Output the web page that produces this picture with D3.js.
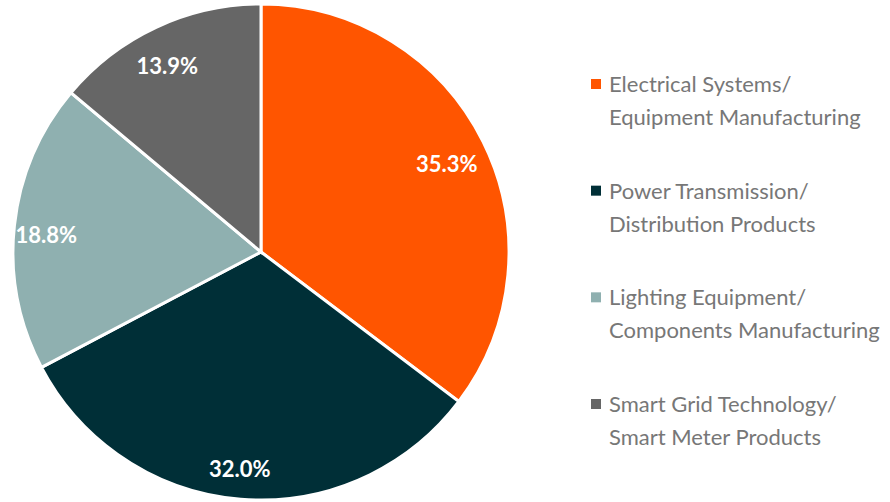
<!DOCTYPE html>
<html>
<head>
<meta charset="utf-8">
<script src="https://cdn.jsdelivr.net/npm/d3@7"></script>
<style>
  body { margin: 0; background: #fff; }
  svg { display: block; }
  .label { fill: #fff; font-family: Lato, sans-serif; font-weight: bold; font-size: 22px; }
  .legend text { fill: #777; font-family: Lato, sans-serif; font-size: 22px; }
</style>
</head>
<body>
<script>
  var width = 890;
  var height = 502;
  var cx = 261, cy = 252, radius = 248;

  var categories = [
    ['Electrical Systems/', 'Equipment Manufacturing'],
    ['Power Transmission/', 'Distribution Products'],
    ['Lighting Equipment/', 'Components Manufacturing'],
    ['Smart Grid Technology/', 'Smart Meter Products']
  ];
  var shares = [35.3, 32.0, 18.8, 13.9];
  var colors = ['#ff5500', '#002f37', '#8fb0b0', '#666666'];

  var dataset = shares.map((v, i) => ({ value: v, lines: categories[i], color: colors[i] }));

  var svg = d3.select('body')
    .append('svg')
    .attr('width', width)
    .attr('height', height);

  var pie = d3.pie().sort(null).value(d => d.value);
  var arc = d3.arc().innerRadius(0).outerRadius(radius);
  var labelArc = d3.arc().innerRadius(212).outerRadius(212);

  var g = svg.append('g').attr('transform', `translate(${cx}, ${cy})`);

  g.selectAll('path')
    .data(pie(dataset))
    .enter()
    .append('path')
    .attr('d', arc)
    .attr('fill', d => d.data.color)
    .attr('stroke', '#fff')
    .attr('stroke-width', 3);

  g.selectAll('text')
    .data(pie(dataset))
    .enter()
    .append('text')
    .attr('class', 'label')
    .attr('transform', d => {
      var c = labelArc.centroid(d);
      return `translate(${c[0] - 4}, ${c[1] + 14})`;
    })
    .attr('text-anchor', 'middle')
    .text(d => d.data.value.toFixed(1) + '%');

  // legend
  var legendY = d3.scaleLinear().domain([0, 3]).range([84, 404]);

  var legend = svg.append('g').attr('class', 'legend')
    .selectAll('g')
    .data(dataset)
    .enter()
    .append('g')
    .attr('transform', (d, i) => `translate(591, ${legendY(i)})`);

  legend.append('rect')
    .attr('x', 0)
    .attr('y', -5)
    .attr('width', 10)
    .attr('height', 10)
    .attr('fill', d => d.color);

  legend.append('text')
    .attr('x', 18)
    .attr('y', 8)
    .text(d => d.lines[0]);

  legend.append('text')
    .attr('x', 18)
    .attr('y', 41)
    .text(d => d.lines[1]);
</script>
</body>
</html>
